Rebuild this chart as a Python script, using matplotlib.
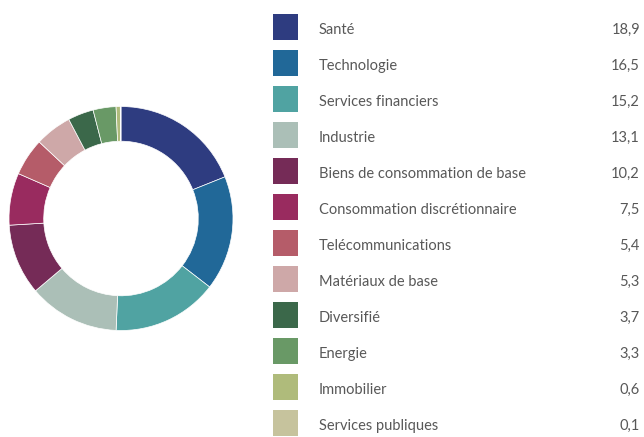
import matplotlib.pyplot as plt
from matplotlib.patches import Rectangle

# sector weights (%)
sectors = ['Santé', 'Technologie', 'Services financiers', 'Industrie',
           'Biens de consommation de base', 'Consommation discrétionnaire',
           'Telécommunications', 'Matériaux de base', 'Diversifié',
           'Energie', 'Immobilier', 'Services publiques']
values = [18.9, 16.5, 15.2, 13.1, 10.2, 7.5, 5.4, 5.3, 3.7, 3.3, 0.6, 0.1]
colors = ['#2e3c80', '#216898', '#50a3a2', '#abbfb7', '#752b57', '#992b5f',
          '#b55c69', '#cea8a8', '#3b684a', '#699966', '#afbb7b', '#c6c39d']

plt.rcParams['font.family'] = ['Lato', 'DejaVu Sans']

W, H = 644, 437
fig = plt.figure(figsize=(W / 100, H / 100), dpi=100)

# donut
cx, cy, r = 121, 218.5, 112
ax = fig.add_axes([(cx - r) / W, (H - cy - r) / H, 2 * r / W, 2 * r / H])
ax.pie(values, colors=colors, startangle=90, counterclock=False,
       radius=1, wedgeprops=dict(width=0.31, edgecolor='white', linewidth=0.5))
ax.set_xlim(-1, 1)
ax.set_ylim(-1, 1)
ax.set_aspect('equal')
ax.axis('off')

# legend table
lg = fig.add_axes([0, 0, 1, 1])
lg.set_xlim(0, W)
lg.set_ylim(H, 0)
lg.axis('off')
for i, (name, val, col) in enumerate(zip(sectors, values, colors)):
    y = 27 + 36 * i
    lg.add_patch(Rectangle((273, y - 13), 25, 26, color=col, lw=0))
    lg.text(319, y + 3, name, va='center', ha='left', fontsize=10.5, color='#585858')
    lg.text(640, y + 3, f'{val:.1f}'.replace('.', ','), va='center', ha='right',
            fontsize=10.5, color='#585858')

fig.savefig('out.png', dpi=100)
